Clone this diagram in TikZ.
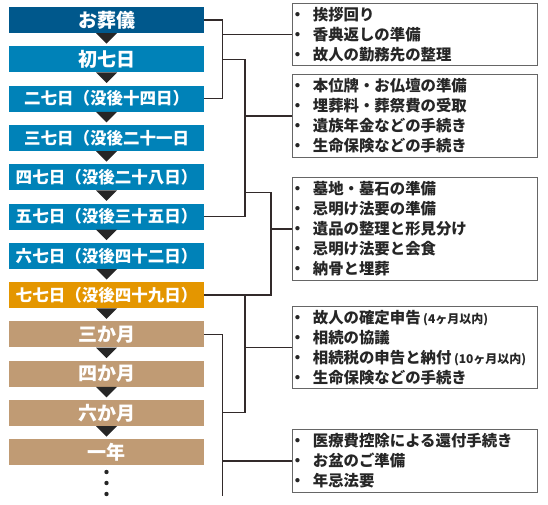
\documentclass[tikz,border=0pt]{standalone}
\usepackage{fontspec}
\newfontfamily\jpfont{Noto Sans CJK JP}
\usepackage{xcolor}
\usepackage{tikz}
\usetikzlibrary{
    positioning,
}

\definecolor{funeralblue}{RGB}{0,88,140}
\definecolor{weekblue}{RGB}{0,130,184}
\definecolor{lastorange}{RGB}{228,150,0}
\definecolor{monthtan}{RGB}{192,155,116}
\definecolor{linkgray}{RGB}{50,42,42}

\newcommand{\bul}{\hspace*{-6.5pt}・\hspace{7.5pt}}
\newcommand{\smallnote}[1]{{\fontsize{12}{20}\selectfont #1}}

\begin{document}
\begin{tikzpicture}[
        x=1pt, y=1pt,
        node distance=12.9pt,
        period/.style={
            rectangle, minimum width=195pt, minimum height=26pt, inner sep=0pt,
            text=white, font=\jpfont\bfseries\fontsize{19}{19}\selectfont
        },
        longlabel/.style={
            font=\jpfont\bfseries\fontsize{16.5}{16.5}\selectfont
        },
        todo/.style={
            rectangle, draw=black!60, line width=0.9pt, anchor=west,
            text width=237pt, inner xsep=4pt, inner ysep=4pt, align=left,
            text=black!85, font=\jpfont\bfseries\fontsize{15.4}{20}\selectfont
        },
        tri/.style={fill=black!85},
        link/.style={draw=linkgray, line width=1.3pt},
    ]

    \useasboundingbox (0,0) rectangle (548,-505);

    % ── Timeline ──
    \node[period, fill=funeralblue] (funeral) at (106.5,-20) {お葬儀};
    \node[period, fill=weekblue, below=of funeral] (day7) {初七日};
    \node[period, longlabel, fill=weekblue, below=of day7] (day14) {二七日（没後十四日）};
    \node[period, longlabel, fill=weekblue, below=of day14] (day21) {三七日（没後二十一日};
    \node[period, longlabel, fill=weekblue, below=of day21] (day28) {四七日（没後二十八日）};
    \node[period, longlabel, fill=weekblue, below=of day28] (day35) {五七日（没後三十五日）};
    \node[period, longlabel, fill=weekblue, below=of day35] (day42) {六七日（没後四十二日）};
    \node[period, longlabel, fill=lastorange, below=of day42] (day49) {七七日（没後四十九日）};
    \node[period, fill=monthtan, below=of day49] (month3) {三か月};
    \node[period, fill=monthtan, below=of month3] (month4) {四か月};
    \node[period, fill=monthtan, below=of month4] (month6) {六か月};
    \node[period, fill=monthtan, below=of month6] (year1) {一年};

    % ── Down triangles ──
    \fill[tri] (funeral.south) ++(-10.5,0) -- ++(21,0) -- ++(-10.5,-10.5) -- cycle;
    \fill[tri] (day7.south) ++(-10.5,0) -- ++(21,0) -- ++(-10.5,-10.5) -- cycle;
    \fill[tri] (day14.south) ++(-10.5,0) -- ++(21,0) -- ++(-10.5,-10.5) -- cycle;
    \fill[tri] (day21.south) ++(-10.5,0) -- ++(21,0) -- ++(-10.5,-10.5) -- cycle;
    \fill[tri] (day28.south) ++(-10.5,0) -- ++(21,0) -- ++(-10.5,-10.5) -- cycle;
    \fill[tri] (day35.south) ++(-10.5,0) -- ++(21,0) -- ++(-10.5,-10.5) -- cycle;
    \fill[tri] (day42.south) ++(-10.5,0) -- ++(21,0) -- ++(-10.5,-10.5) -- cycle;
    \fill[tri] (day49.south) ++(-10.5,0) -- ++(21,0) -- ++(-10.5,-10.5) -- cycle;
    \fill[tri] (month3.south) ++(-10.5,0) -- ++(21,0) -- ++(-10.5,-10.5) -- cycle;
    \fill[tri] (month4.south) ++(-10.5,0) -- ++(21,0) -- ++(-10.5,-10.5) -- cycle;
    \fill[tri] (month6.south) ++(-10.5,0) -- ++(21,0) -- ++(-10.5,-10.5) -- cycle;

    % ── Continuation dots ──
    \fill[tri] (year1.south) ++(0,-6.5) circle (2.2);
    \fill[tri] (year1.south) ++(0,-17.5) circle (2.2);
    \fill[tri] (year1.south) ++(0,-28.5) circle (2.2);

    % ── To-do lists ──
    \node[todo] (list1) at (292,-34.5)
        {\bul 挨拶回り\\\bul 香典返しの準備\\\bul 故人の勤務先の整理};
    \node[todo] (list2) at (292,-116)
        {\bul 本位牌・お仏壇の準備\\\bul 埋葬料・葬祭費の受取\\\bul 遺族年金などの手続き\\\bul 生命保険などの手続き};
    \node[todo] (list3) at (292,-229)
        {\bul 墓地・墓石の準備\\\bul 忌明け法要の準備\\\bul 遺品の整理と形見分け\\\bul 忌明け法要と会食\\\bul 納骨と埋葬};
    \node[todo] (list4) at (292,-347.5)
        {\bul 故人の確定申告\,\smallnote{(4ヶ月以内)}\\\bul 相続の協議\\\bul 相続税の申告と納付\,\smallnote{(10ヶ月以内)}\\\bul 生命保険などの手続き};
    \node[todo] (list5) at (292,-461)
        {\bul 医療費控除による還付手続き\\\bul お盆のご準備\\\bul 年忌法要};

    % ── Bracket columns ──
    \coordinate (busA) at (222.7,0);
    \coordinate (busB) at (245,0);
    \coordinate (busC) at (271,0);
    \coordinate (splitC) at (245,-192.7);
    \coordinate (joinD) at (222.7,-412.7);
    \coordinate (endE) at (222.7,-496);

    % ── Brackets ──
    \draw[link] (funeral.east) -| (busA |- day14.east) -- (day14.east);
    \draw[link] (busA |- day7.east) -| (busB |- day35.east) -- (day35.east);
    \draw[link] (splitC) -| (busC |- day49.east) -- (day49.east);
    \draw[link] (busB |- day49.east) |- (joinD);
    \draw[link] (month3.east) -| (endE);

    % ── Branches to lists ──
    \draw[link] (busA |- list1.west) -- (list1.west);
    \draw[link] (busB |- list2.west) -- (list2.west);
    \draw[link] (busC |- list3.west) -- (list3.west);
    \draw[link] (busB |- list4.west) -- (list4.west);
    \draw[link] (busA |- list5.west) -- (list5.west);

\end{tikzpicture}
\end{document}
